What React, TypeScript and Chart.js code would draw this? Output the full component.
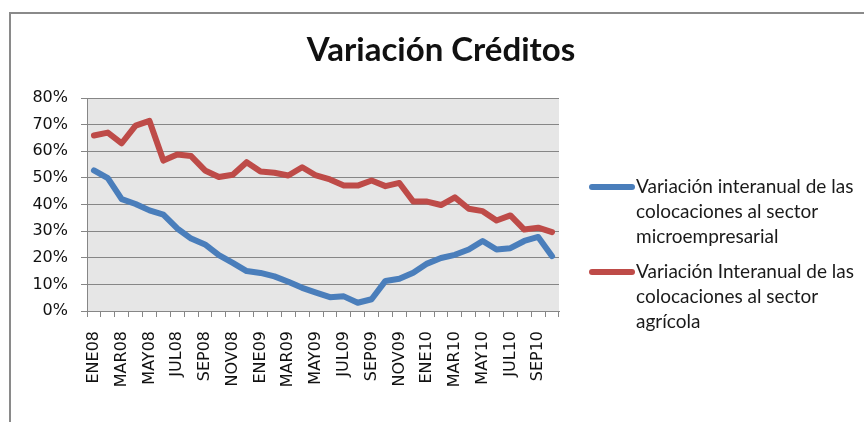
import React, { useEffect, useRef } from 'react';
import { Chart, registerables } from 'chart.js';

Chart.register(...registerables);

const months = [
  'ENE08', 'FEB08', 'MAR08', 'ABR08', 'MAY08', 'JUN08', 'JUL08', 'AGO08', 'SEP08', 'OCT08', 'NOV08', 'DIC08',
  'ENE09', 'FEB09', 'MAR09', 'ABR09', 'MAY09', 'JUN09', 'JUL09', 'AGO09', 'SEP09', 'OCT09', 'NOV09', 'DIC09',
  'ENE10', 'FEB10', 'MAR10', 'ABR10', 'MAY10', 'JUN10', 'JUL10', 'AGO10', 'SEP10', 'OCT10',
];

const microempresarial = [
  52.8, 49.9, 42.0, 40.2, 37.8, 36.2, 31.0, 27.2, 25.0, 21.0, 18.1, 15.0,
  14.3, 13.0, 11.0, 8.7, 6.9, 5.2, 5.5, 3.1, 4.4, 11.3, 12.1, 14.4,
  17.8, 19.9, 21.1, 23.1, 26.3, 23.1, 23.6, 26.3, 27.8, 20.6,
];

const agricola = [
  65.9, 67.0, 63.0, 69.6, 71.4, 56.5, 58.8, 58.2, 52.8, 50.3, 51.2, 55.9,
  52.4, 51.9, 50.9, 54.0, 50.9, 49.4, 47.1, 47.1, 49.0, 46.9, 48.1, 41.1,
  41.1, 39.8, 42.7, 38.4, 37.5, 34.0, 35.9, 30.6, 31.3, 29.6,
];

const TITLE = 'Variación Créditos';
const seriesLabels = [
  ['Variación interanual de las', 'colocaciones al sector', 'microempresarial'],
  ['Variación Interanual de las', 'colocaciones al sector', 'agrícola'],
];
const seriesColors = ['#4A7EBB', '#BE4B48'];

const decor = {
  id: 'decor',
  beforeDraw(chart: any) {
    const { ctx, chartArea: a, width, height } = chart;
    ctx.save();
    ctx.fillStyle = '#ffffff';
    ctx.fillRect(0, 0, width, height);
    ctx.strokeStyle = '#8a8a8a';
    ctx.lineWidth = 2;
    ctx.strokeRect(10, 13, width + 40, height + 40);
    ctx.fillStyle = '#E6E6E6';
    ctx.fillRect(a.left, a.top, a.right - a.left, a.bottom - a.top);
    ctx.restore();
  },
  afterDraw(chart: any) {
    const { ctx } = chart;
    ctx.save();
    ctx.fillStyle = '#111111';
    ctx.font = 'bold 33px Lato';
    ctx.textAlign = 'center';
    ctx.textBaseline = 'middle';
    ctx.fillText(TITLE, 441, 50);

    ctx.font = '19px Lato';
    ctx.textAlign = 'left';
    chart.data.datasets.forEach((ds: any, i: number) => {
      const y0 = 187 + i * 85;
      ctx.strokeStyle = ds.borderColor;
      ctx.lineWidth = 6;
      ctx.lineCap = 'round';
      ctx.beginPath();
      ctx.moveTo(592, y0);
      ctx.lineTo(632, y0);
      ctx.stroke();
      ctx.fillStyle = '#1a1a1a';
      (ds.legendLines as string[]).forEach((line, k) => {
        ctx.fillText(line, 636, y0 + k * 25);
      });
    });
    ctx.restore();
  },
};

export default function App() {
  const ref = useRef<HTMLCanvasElement>(null);
  useEffect(() => {
    if (!ref.current) return;
    const tickFont = { family: 'DejaVu Sans', size: 16 };
    const chart = new Chart(ref.current, {
      type: 'line',
      data: {
        labels: months,
        datasets: [
          {
            label: seriesLabels[0].join(' '),
            legendLines: seriesLabels[0],
            data: microempresarial,
            borderColor: seriesColors[0],
            backgroundColor: seriesColors[0],
          } as any,
          {
            label: seriesLabels[1].join(' '),
            legendLines: seriesLabels[1],
            data: agricola,
            borderColor: seriesColors[1],
            backgroundColor: seriesColors[1],
          } as any,
        ].map((d) => ({
          ...d,
          borderWidth: 6,
          pointRadius: 0,
          pointHoverRadius: 0,
          tension: 0,
          fill: false,
          borderJoinStyle: 'round',
          borderCapStyle: 'round',
        })),
      },
      options: {
        responsive: false,
        animation: false,
        devicePixelRatio: 1,
        layout: { padding: { top: 98, right: 305, left: 0, bottom: 0 } },
        plugins: {
          legend: { display: false },
          title: { display: false },
          tooltip: { enabled: false },
        },
        scales: {
          x: {
            offset: true,
            afterFit: (s: any) => { s.height = 111; },
            grid: {
              offset: true,
              drawOnChartArea: false,
              drawTicks: true,
              tickLength: 6,
              color: '#868686',
            },
            border: { display: true, color: '#868686', width: 1 },
            ticks: {
              autoSkip: false,
              maxRotation: 90,
              minRotation: 90,
              padding: 14,
              color: '#111111',
              font: tickFont,
              callback: (_v: any, i: number) => (i % 2 === 0 ? months[i] : ''),
            },
          },
          y: {
            min: 0,
            max: 80,
            afterFit: (s: any) => { s.width = 87; },
            grid: { color: '#868686', tickLength: 6, drawTicks: true },
            border: { display: true, color: '#868686', width: 1 },
            ticks: {
              stepSize: 10,
              padding: 13,
              color: '#111111',
              font: tickFont,
              callback: (v: any) => `${v}%`,
            },
          },
        },
      },
      plugins: [decor],
    } as any);
    return () => chart.destroy();
  }, []);
  return (
    <canvas
      ref={ref}
      width={864}
      height={422}
      style={{ position: 'fixed', left: 0, top: 0, width: 864, height: 422 }}
    />
  );
}
